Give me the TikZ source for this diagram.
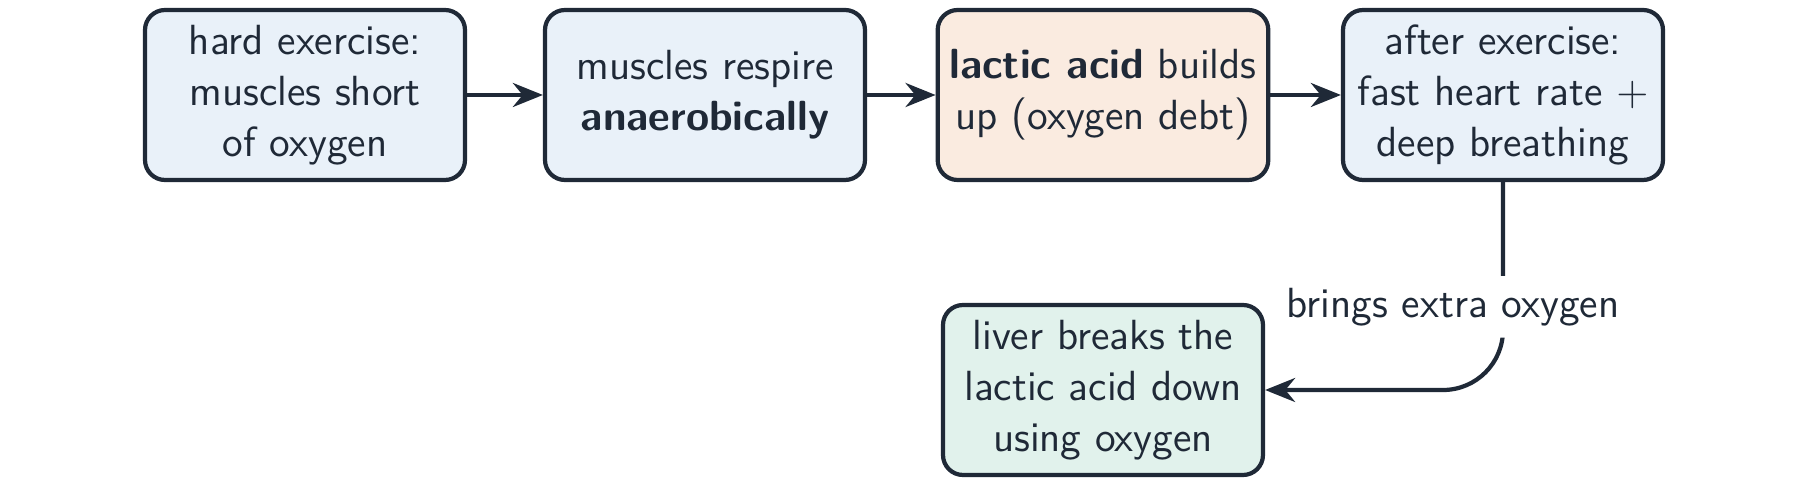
\documentclass[tikz,border=0pt]{standalone}
\usetikzlibrary{arrows.meta,positioning}
\definecolor{edgec}{HTML}{1F2937}
\definecolor{bluef}{HTML}{E9F1F9}
\definecolor{orangef}{HTML}{FAEBE0}
\definecolor{greenf}{HTML}{E1F2EC}
\begin{document}
\begin{tikzpicture}[->,>={Stealth[length=3mm,width=2.4mm]},line width=1.2pt,draw=edgec,
                    font=\sffamily\fontsize{12}{14.5}\selectfont,text=edgec]
  \tikzstyle{stage}=[rectangle,rounded corners=2mm,draw=edgec,line width=1.2pt,
                    minimum width=3.2cm,minimum height=1.7cm,align=center,fill=bluef]
  \tikzstyle{hot stage}=[stage,fill=orangef]
  \tikzstyle{end stage}=[stage,fill=greenf]
  \useasboundingbox (0,0) rectangle (18,4.85);

  \node[stage] (short) at (3.05,3.9) {hard exercise:\\muscles short\\of oxygen};
  \node[stage] (anaer) at (7.05,3.9) {muscles respire\\\textbf{anaerobically}};
  \node[hot stage] (lactic) at (11.03,3.9) {\textbf{lactic acid} builds\\up (oxygen debt)};
  \node[stage] (after) at (15.03,3.9) {after exercise:\\fast heart rate $+$\\deep breathing};
  \node[end stage] (liver) at (11.03,0.95) {liver breaks the\\lactic acid down\\using oxygen};

  \path (short) edge (anaer)
        (anaer) edge (lactic)
        (lactic) edge (after);
  \draw[rounded corners=6mm] (after.south) |- node[pos=0.3,fill=white,xshift=-5mm] {brings extra oxygen} (liver.east);
\end{tikzpicture}
\end{document}
